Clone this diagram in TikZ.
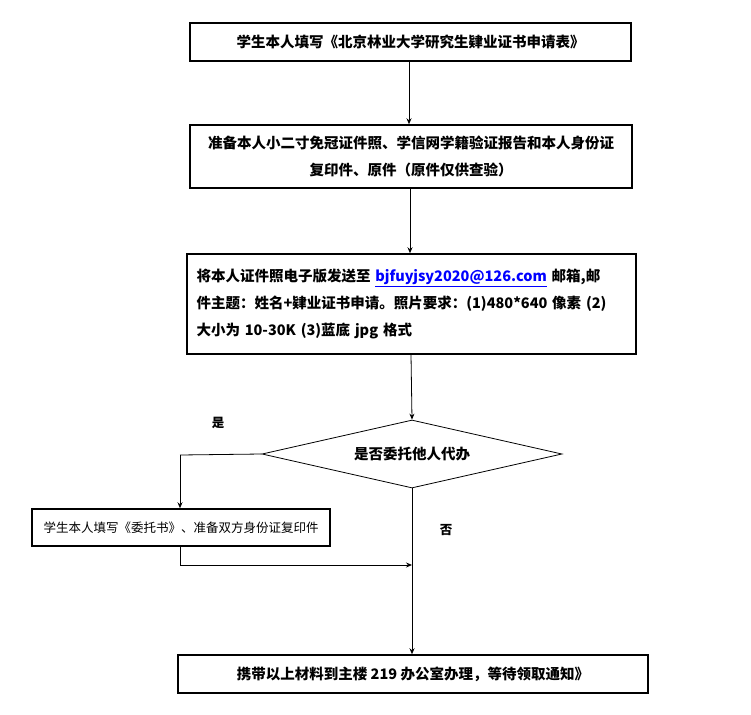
\documentclass[tikz,border=0pt]{standalone}
\usepackage{fontspec}
\setmainfont{Noto Sans CJK SC}
\usepackage{tikz}
\usetikzlibrary{shapes.geometric, arrows.meta}
\tikzset{
  box/.style = {draw, line width=1.5pt, inner sep=0pt, font=\bfseries\fontsize{14.5}{27}\selectfont},
  link/.style = {line width=0.8pt, -{Stealth[length=6pt,width=5pt,inset=2pt]}},
  plain/.style = {line width=0.8pt}
}
\begin{document}
\begin{tikzpicture}[x=1pt, y=-1pt]
\useasboundingbox (0,0) rectangle (751,714);
\node[box, minimum width=441pt, minimum height=38pt](s1) at (410.5,42){学生本人填写《北京林业大学研究生肄业证书申请表》};
\node[box, minimum width=442pt, minimum height=63pt, align=center](s2) at (411,156.5){准备本人小二寸免冠证件照、学信网学籍验证报告和本人身份证\\复印件、原件（原件仅供查验）};
\node[box, minimum width=449pt, minimum height=100pt, align=left, text width=430pt](s3) at (411.5,304){将本人证件照电子版发送至 \textcolor{blue}{\underline{bjfuyjsy2020@126.com}} 邮箱,邮\\件主题：姓名+肄业证书申请。照片要求：(1)480*640 像素 (2)\\大小为 10-30K (3)蓝底 jpg 格式\\[-4pt]};
\node[draw, diamond, line width=0.8pt, aspect=4.4, minimum width=300pt, minimum height=68pt, inner sep=0pt, font=\bfseries\fontsize{14.5}{16}\selectfont](q) at (412,454){是否委托他人代办};
\node[box, minimum width=298pt, minimum height=37pt, font=\fontsize{12.5}{14}\selectfont](s4) at (181,527.5){学生本人填写《委托书》、准备双方身份证复印件};
\node[box, minimum width=470pt, minimum height=38pt](s5) at (413,674){携带以上材料到主楼 219 办公室办理，等待领取通知》};
\coordinate (c1) at (180,455);
\coordinate (c2) at (180,565);
\coordinate (c3) at (412,565);
\draw[link] (s1.south -| 409,0) -- (s2.north -| 409,0);
\draw[link] (s2.south -| 410,0) -- (s3.north -| 410,0);
\draw[link] (s3.south -| 411,0) -- (q.north);
\draw[plain] (q.west) -- (c1);
\draw[link] (c1) -- (s4.north -| c1);
\draw[plain] (s4.south -| c2) -- (c2);
\draw[link] (c2) -- (c3);
\draw[link] (q.south) -- (s5.north -| 412,0);
\node[font=\bfseries\fontsize{12.5}{14}\selectfont](yes) at (218,423){是};
\node[font=\bfseries\fontsize{12.5}{14}\selectfont](no) at (446,530){否};
\end{tikzpicture}
\end{document}
